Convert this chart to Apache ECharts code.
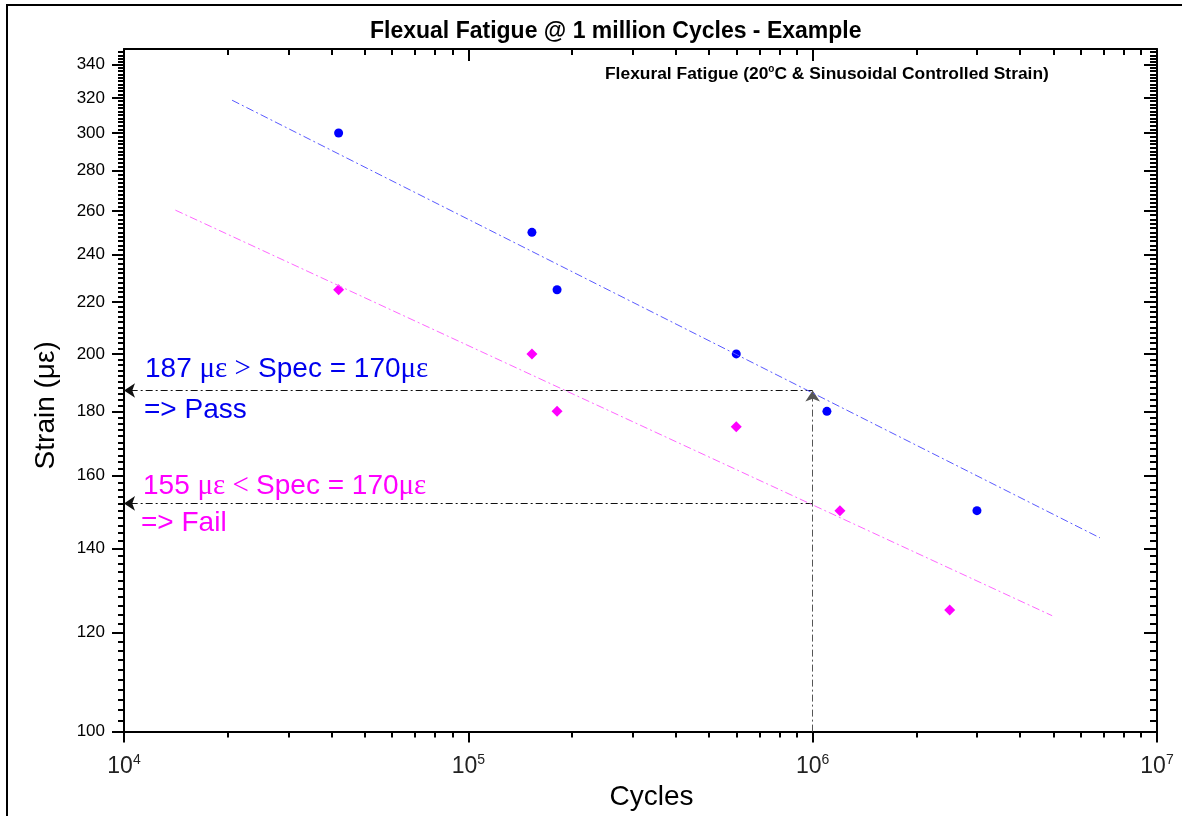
<!DOCTYPE html>
<html>
<head>
<meta charset="utf-8">
<title>Flexual Fatigue</title>
<script src="https://cdn.jsdelivr.net/npm/echarts@6/dist/echarts.min.js"></script>
<style>
  html, body { margin: 0; padding: 0; background: #fff; }
  #chart { width: 1182px; height: 816px; }
</style>
</head>
<body>
<div id="chart"></div>
<script>
// measured points (cycles, strain in microstrain)
const passCycles = [4.2e4, 1.53e5, 1.81e5, 6.0e5, 1.1e6, 3.0e6]
const passStrain = [300, 250, 225, 200, 180, 150]
const failCycles = [4.2e4, 1.53e5, 1.81e5, 6.0e5, 1.2e6, 2.5e6]
const failStrain = [225, 200, 180, 175, 150, 125]

// fitted trend lines (end points)
const passFitCycles = [2.06e4, 6.83e6]
const passFitStrain = [318.6, 142.7]
const failFitCycles = [1.41e4, 4.96e6]
const failFitStrain = [260.4, 123.7]

// read-out at 1 million cycles
const designCycles = 1e6
const passReadout = 187
const failReadout = 152
const strainMin = 100
const cyclesMin = 1e4

// ticks
const xMajorTicks = [1e4, 1e5, 1e6, 1e7]
const xMinorTicks = []
for (let d = 1e4; d < 1e7; d *= 10) {
  for (let k = 2; k <= 9; k++) xMinorTicks.push(k * d)
}
const yMajorTicks = [100, 120, 140, 160, 180, 200, 220, 240, 260, 280, 300, 320, 340]
const yMinorTicks = []
for (let v = 102; v <= 348; v += 2) {
  if (v % 20 !== 0) yMinorTicks.push(v)
}

const sans = 'Liberation Sans, Arial, sans-serif'
const serif = 'Liberation Serif, Times New Roman, serif'

const zip = (xs, ys) => xs.map((x, i) => [x, ys[i]])

const xBase = {
  type: 'log',
  logBase: 10,
  min: 1e4,
  max: 1e7,
  gridIndex: 0,
  splitLine: { show: false },
  axisLine: { onZero: false, lineStyle: { color: '#000', width: 2 } },
}
const yBase = {
  type: 'log',
  logBase: 10,
  min: 100,
  max: 350,
  gridIndex: 0,
  splitLine: { show: false },
  axisLine: { onZero: false, lineStyle: { color: '#000', width: 2 } },
}

const myChart = echarts.init(document.getElementById('chart'))
const option = {
  animation: false,
  backgroundColor: '#fff',
  title: {
    text: 'Flexual Fatigue @ 1 million Cycles - Example',
    left: 370,
    top: 20,
    padding: 0,
    textStyle: { fontFamily: sans, fontSize: 23, fontWeight: 'bold', color: '#000' },
  },
  grid: { left: 124, right: 25, top: 49, bottom: 84, containLabel: false },
  xAxis: [
    {
      ...xBase,
      position: 'bottom',
      name: 'Cycles',
      nameLocation: 'middle',
      nameGap: 41,
      nameTextStyle: { fontFamily: sans, fontSize: 28, color: '#000', padding: [0, 0, 0, 22] },
      axisTick: { customValues: xMajorTicks, length: 11, lineStyle: { color: '#000', width: 2 } },
      axisLabel: {
        customValues: xMajorTicks,
        margin: 22,
        formatter: (v) => '{b|10}{s|' + Math.round(Math.log10(v)) + '}',
        rich: {
          b: { fontFamily: sans, fontSize: 23, color: '#222' },
          s: { fontFamily: sans, fontSize: 14, color: '#222', padding: [0, 0, 12, 0] },
        },
      },
    },
    {
      ...xBase,
      position: 'bottom',
      axisLine: { show: false },
      axisTick: { customValues: xMinorTicks, length: 6, lineStyle: { color: '#000', width: 2 } },
      axisLabel: { show: false },
    },
    {
      ...xBase,
      position: 'top',
      axisTick: { inside: true, customValues: xMajorTicks, length: 12, lineStyle: { color: '#000', width: 2 } },
      axisLabel: { show: false },
    },
    {
      ...xBase,
      position: 'top',
      axisLine: { show: false },
      axisTick: { inside: true, customValues: xMinorTicks, length: 6, lineStyle: { color: '#000', width: 2 } },
      axisLabel: { show: false },
    },
  ],
  yAxis: [
    {
      ...yBase,
      position: 'left',
      name: 'Strain (με)',
      nameLocation: 'middle',
      nameGap: 64,
      nameTextStyle: { fontFamily: sans, fontSize: 28, color: '#000', padding: [0, 30, 0, 0] },
      axisTick: { customValues: yMajorTicks, length: 12, lineStyle: { color: '#000', width: 2 } },
      axisLabel: {
        customValues: yMajorTicks,
        margin: 19,
        fontFamily: sans,
        fontSize: 17,
        color: '#000',
      },
    },
    {
      ...yBase,
      position: 'left',
      axisLine: { show: false },
      axisTick: { customValues: yMinorTicks, length: 6, lineStyle: { color: '#000', width: 2 } },
      axisLabel: { show: false },
    },
    {
      ...yBase,
      position: 'right',
      axisTick: { inside: true, customValues: yMajorTicks, length: 13, lineStyle: { color: '#000', width: 2 } },
      axisLabel: { show: false },
    },
    {
      ...yBase,
      position: 'right',
      axisLine: { show: false },
      axisTick: { inside: true, customValues: yMinorTicks, length: 7, lineStyle: { color: '#000', width: 2 } },
      axisLabel: { show: false },
    },
  ],
  graphic: [
    {
      type: 'rect',
      silent: true,
      z: -10,
      shape: { x: 7, y: 5, width: 1300, height: 1000 },
      style: { fill: 'none', stroke: '#000', lineWidth: 2 },
    },
    {
      type: 'text',
      x: 605,
      y: 74,
      style: {
        text: '{t|Flexural Fatigue (20}{o|o}{t|C & Sinusoidal Controlled Strain)}',
        verticalAlign: 'middle',
        rich: {
          t: { fontFamily: sans, fontSize: 17.4, fontWeight: 'bold', fill: '#000' },
          o: { fontFamily: sans, fontSize: 10, fontWeight: 'bold', fill: '#000', padding: [0, 0, 9, 0] },
        },
      },
    },
    {
      type: 'text',
      x: 145,
      y: 369,
      style: {
        text: '{n|187 }{g|με > }{n|Spec = 170}{g|με}',
        verticalAlign: 'middle',
        rich: {
          n: { fontFamily: sans, fontSize: 28, fill: '#0000ee' },
          g: { fontFamily: serif, fontSize: 29, fill: '#0000ee' },
        },
      },
    },
    {
      type: 'text',
      x: 144,
      y: 410,
      style: { text: '=> Pass', verticalAlign: 'middle', fontFamily: sans, fontSize: 28, fill: '#0000ee' },
    },
    {
      type: 'text',
      x: 143,
      y: 486,
      style: {
        text: '{n|155 }{g|με < }{n|Spec = 170}{g|με}',
        verticalAlign: 'middle',
        rich: {
          n: { fontFamily: sans, fontSize: 28, fill: '#ff00ff' },
          g: { fontFamily: serif, fontSize: 29, fill: '#ff00ff' },
        },
      },
    },
    {
      type: 'text',
      x: 141,
      y: 523,
      style: { text: '=> Fail', verticalAlign: 'middle', fontFamily: sans, fontSize: 28, fill: '#ff00ff' },
    },
  ],
  series: [
    {
      name: 'Pass fit',
      type: 'line',
      data: zip(passFitCycles, passFitStrain),
      showSymbol: false,
      silent: true,
      lineStyle: { color: '#5a5aff', width: 1, type: [8, 3, 2, 3] },
    },
    {
      name: 'Fail fit',
      type: 'line',
      data: zip(failFitCycles, failFitStrain),
      showSymbol: false,
      silent: true,
      lineStyle: { color: '#ff66ff', width: 1, type: [8, 3, 2, 3] },
    },
    {
      name: 'Read-out',
      type: 'lines',
      coordinateSystem: 'cartesian2d',
      silent: true,
      symbol: ['none', 'arrow'],
      symbolSize: 11,
      lineStyle: { color: '#111', width: 1, type: [7, 3, 2, 3], opacity: 1 },
      data: [
        { coords: [[designCycles, passReadout], [cyclesMin, passReadout]] },
        { coords: [[designCycles, failReadout], [cyclesMin, failReadout]] },
        { coords: [[designCycles, strainMin], [designCycles, passReadout]], lineStyle: { color: '#555' } },
      ],
    },
    {
      name: 'Pass',
      type: 'scatter',
      data: zip(passCycles, passStrain),
      symbol: 'circle',
      symbolSize: 9,
      itemStyle: { color: '#0000ff', opacity: 1 },
    },
    {
      name: 'Fail',
      type: 'scatter',
      data: zip(failCycles, failStrain),
      symbol: 'diamond',
      symbolSize: 11,
      itemStyle: { color: '#ff00ff', opacity: 1 },
    },
  ],
}

option && myChart.setOption(option)
</script>
</body>
</html>
